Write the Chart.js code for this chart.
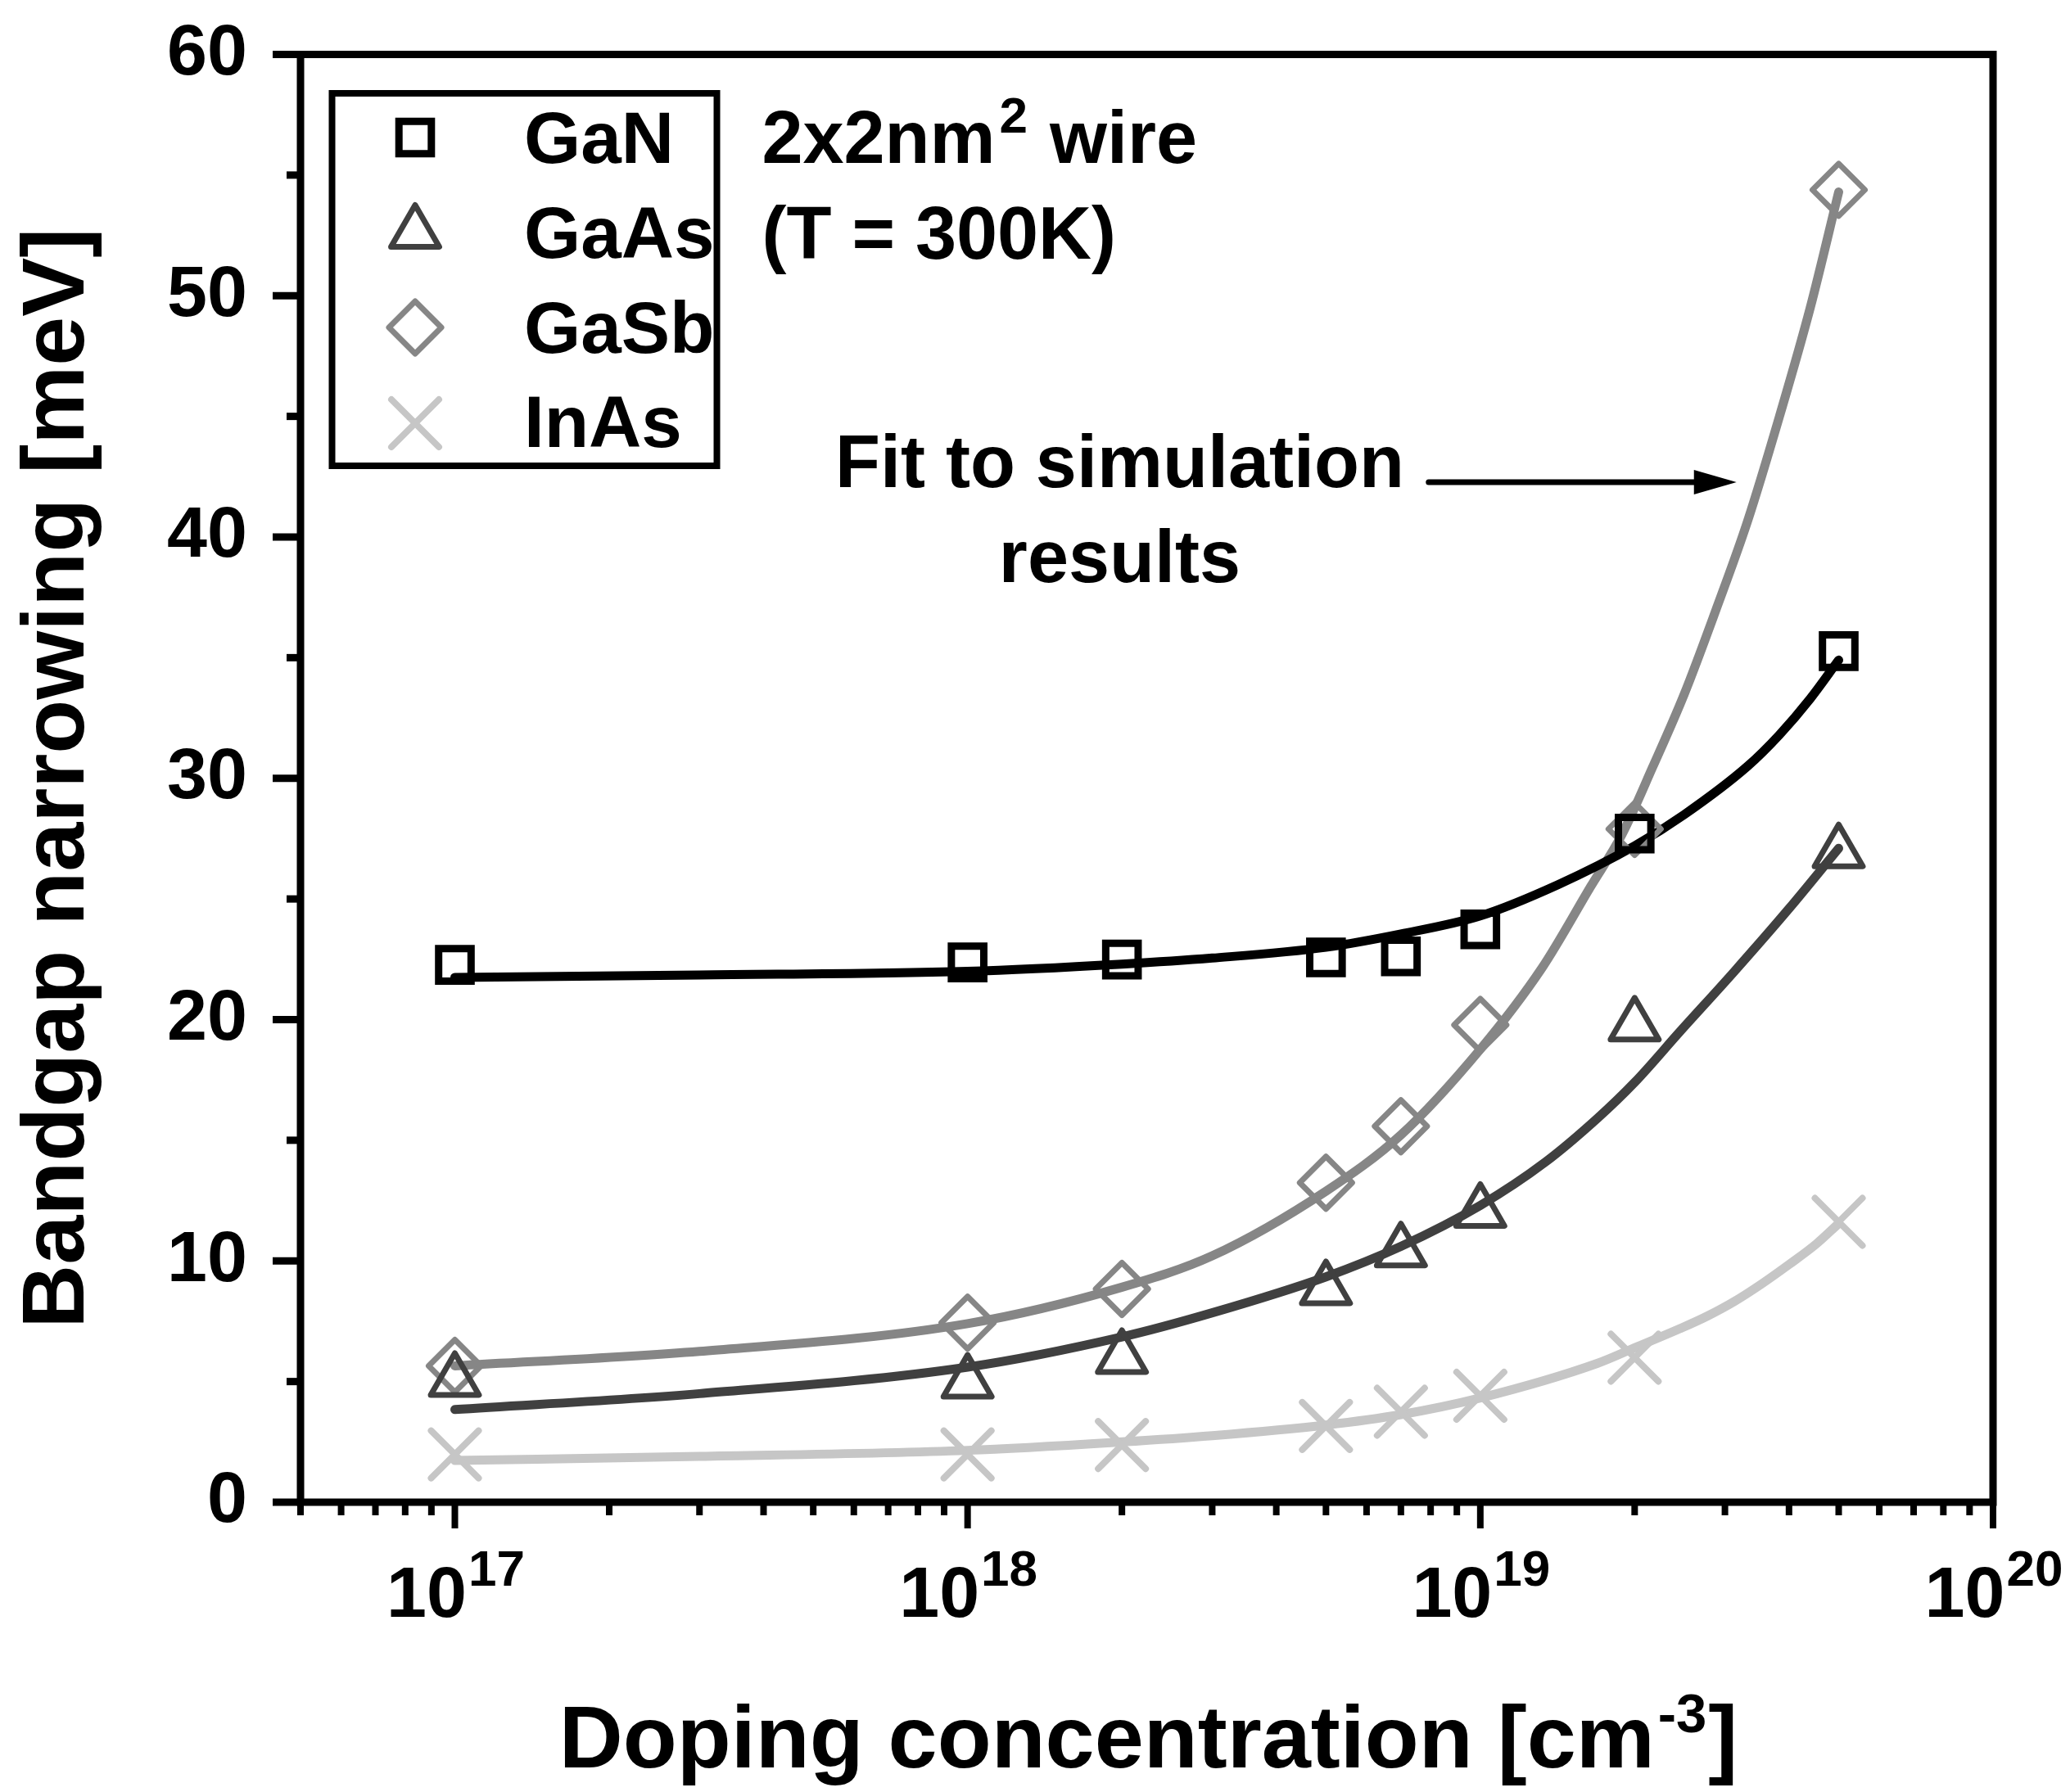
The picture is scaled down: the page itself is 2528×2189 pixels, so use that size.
<!DOCTYPE html>
<html>
<head>
<meta charset="utf-8">
<script src="https://cdn.jsdelivr.net/npm/chart.js@4.4.1/dist/chart.umd.min.js"></script>
<style>
html,body{margin:0;padding:0;background:#ffffff;}
#wrap{width:2528px;height:2189px;position:relative;}
</style>
</head>
<body>
<div id="wrap"><canvas id="c" width="2528" height="2189"></canvas></div>
<script>
// ---------- data ----------
const materials = ['GaN', 'GaAs', 'GaSb', 'InAs'];
const dopingPoints = [1e17, 1e18, 2e18, 5e18, 7e18, 1e19, 2e19, 5e19];
const ganSim  = [22.27, 22.37, 22.49, 22.58, 22.62, 23.74, 27.71, 35.27];
const gaasSim = [5.02, 4.95, 5.97, 8.82, 10.39, 12.03, 19.75, 26.93];
const gasbSim = [5.65, 7.44, 8.84, 13.24, 15.58, 19.78, 27.9, 54.39];
const inasSim = [1.98, 1.98, 2.37, 3.16, 3.75, 4.41, 5.99, 11.62];

const ganFitX  = [1e17, 3e17, 1e18, 2e18, 3e18, 5e18, 7e18, 1e19, 1.42e19, 2e19, 2.5e19, 3.32e19, 3.83e19, 4.4e19, 5e19];
const ganFitY  = [21.75, 21.85, 22.0, 22.3, 22.55, 23.0, 23.55, 24.3, 25.6, 27.2, 28.5, 30.5, 31.8, 33.3, 34.9];
const gaasFitX = [1e17, 3e17, 1e18, 2e18, 3e18, 5e18, 7e18, 1e19, 1.34e19, 1.69e19, 2e19, 2.45e19, 3.13e19, 4e19, 5e19];
const gaasFitY = [3.84, 4.5, 5.6, 6.85, 7.85, 9.34, 10.6, 12.3, 14.1, 15.9, 17.4, 19.5, 22.0, 24.6, 27.1];
const gasbFitX = [1e17, 3e17, 1e18, 2e18, 3e18, 5e18, 7e18, 1e19, 1.32e19, 1.64e19, 1.89e19, 2.17e19, 2.5e19, 2.88e19, 3.32e19, 3.83e19, 4.4e19, 5e19];
const gasbFitY = [5.65, 6.25, 7.4, 8.91, 10.21, 12.89, 15.22, 18.77, 22.15, 25.5, 27.68, 30.48, 33.5, 36.97, 40.65, 44.98, 49.5, 54.3];
const inasFitX = [1e17, 3e17, 1e18, 2e18, 3e18, 5e18, 7e18, 1e19, 1.69e19, 2e19, 2.45e19, 2.77e19, 3.13e19, 3.54e19, 4e19, 4.52e19, 5e19];
const inasFitY = [1.73, 1.9, 2.15, 2.5, 2.76, 3.2, 3.63, 4.32, 5.75, 6.4, 7.19, 7.71, 8.32, 9.05, 9.85, 10.7, 11.55];

const xMajorExponents = [17, 18, 19, 20];
const yTickValues = [0, 10, 20, 30, 40, 50, 60];
const xTitleMain = 'Doping concentration [cm';
const xTitleSup = '-3';
const xTitleEnd = ']';
const yTitle = 'Bandgap narrowing [meV]';
const noteLine1 = ['2x2nm', '2', ' wire'];
const noteLine2 = '(T = 300K)';
const fitNote = ['Fit to simulation', 'results'];

// ---------- styles ----------
const colors = {GaN: '#000000', GaAs: '#404040', GaSb: '#868686', InAs: '#c6c6c6'};
const styles = {GaN: 'rect', GaAs: 'triangle', GaSb: 'rectRot', InAs: 'crossRot'};
const radii  = {GaN: 28, GaAs: 34, GaSb: 32, InAs: 41};
const bws    = {GaN: 9, GaAs: 7, GaSb: 7, InAs: 8};
const FAM = '"Liberation Sans", Arial, Helvetica, sans-serif';
const fnt = s => `bold ${s}px ${FAM}`;

function pts(xs, ys){ return xs.map((v,i)=>({x:v, y:ys[i]})); }
const simSets = {GaN: ganSim, GaAs: gaasSim, GaSb: gasbSim, InAs: inasSim};
const fitSets = {GaN: [ganFitX, ganFitY], GaAs: [gaasFitX, gaasFitY], GaSb: [gasbFitX, gasbFitY], InAs: [inasFitX, inasFitY]};

const datasets = [];
materials.forEach(m => {
  datasets.push({
    label: m + ' fit', data: pts(fitSets[m][0], fitSets[m][1]), showLine: true,
    borderColor: colors[m], borderWidth: 11, borderCapStyle: 'round', borderJoinStyle: 'round',
    pointRadius: 0, pointHoverRadius: 0, cubicInterpolationMode: 'monotone', fill: false, order: 2
  });
  datasets.push({
    label: m, data: pts(dopingPoints, simSets[m]), showLine: false,
    pointStyle: styles[m], pointRadius: radii[m], pointHoverRadius: radii[m],
    pointBorderColor: colors[m], pointBackgroundColor: 'rgba(0,0,0,0)', pointBorderWidth: bws[m],
    borderColor: colors[m], backgroundColor: 'rgba(0,0,0,0)', order: 1
  });
});

const decor = {
  id: 'decor',
  beforeDatasetDraw(chart, args){
    const ds = chart.data.datasets[args.index];
    chart.ctx.lineJoin = ds.pointStyle === 'rect' ? 'miter' : 'round';
    chart.ctx.lineCap = 'round';
  },
  afterDraw(chart){
    const {ctx, chartArea: a, scales: {x, y}} = chart;
    ctx.save();
    ctx.fillStyle = '#000'; ctx.strokeStyle = '#000';
    // frame
    ctx.lineWidth = 9; ctx.lineCap = 'butt'; ctx.lineJoin = 'miter';
    ctx.strokeRect(a.left, a.top, a.right - a.left, a.bottom - a.top);
    // x ticks
    ctx.lineWidth = 8;
    for (let e = 16; e <= 20; e++) {
      for (let k = 1; k <= 9; k++) {
        const v = k * Math.pow(10, e);
        if (v < x.min * 0.999 || v > x.max * 1.001) continue;
        const px = x.getPixelForValue(v);
        const len = k === 1 ? 32 : 16;
        ctx.beginPath(); ctx.moveTo(px, a.bottom); ctx.lineTo(px, a.bottom + len); ctx.stroke();
      }
    }
    // y ticks
    ctx.lineWidth = 9;
    for (let v = y.min; v <= y.max + 0.001; v += 5) {
      const py = y.getPixelForValue(v);
      const len = (Math.round(v) % 10 === 0) ? 34 : 17;
      ctx.beginPath(); ctx.moveTo(a.left, py); ctx.lineTo(a.left - len, py); ctx.stroke();
    }
    // x tick labels 10^n
    ctx.textBaseline = 'alphabetic'; ctx.textAlign = 'left';
    xMajorExponents.forEach(e => {
      const px = x.getPixelForValue(Math.pow(10, e));
      ctx.font = fnt(88); const w1 = ctx.measureText('10').width;
      ctx.font = fnt(62); const w2 = ctx.measureText(String(e)).width;
      const x0 = px - (w1 + w2) / 2;
      ctx.font = fnt(88); ctx.fillText('10', x0, a.bottom + 140);
      ctx.font = fnt(62); ctx.fillText(String(e), x0 + w1 + 2, a.bottom + 102);
    });
    // x title
    ctx.font = fnt(108); const t1 = ctx.measureText(xTitleMain).width; const t3 = ctx.measureText(xTitleEnd).width;
    ctx.font = fnt(67); const t2 = ctx.measureText(xTitleSup).width;
    const tx0 = (a.left + a.right) / 2 + 2 - (t1 + t2 + t3 + 6) / 2;
    const tb = a.bottom + 324;
    ctx.font = fnt(108); ctx.fillText(xTitleMain, tx0, tb);
    ctx.font = fnt(67); ctx.fillText(xTitleSup, tx0 + t1 + 4, tb - 43);
    ctx.font = fnt(108); ctx.fillText(xTitleEnd, tx0 + t1 + t2 + 6, tb);

    // annotations placed in data coordinates
    const nx = x.getPixelForValue(3.97e17);
    ctx.font = fnt(90); ctx.fillText(noteLine1[0], nx, y.getPixelForValue(55.51));
    const n1 = ctx.measureText(noteLine1[0]).width;
    ctx.font = fnt(62); ctx.fillText(noteLine1[1], nx + n1 + 5, y.getPixelForValue(55.51) - 37);
    const n2 = ctx.measureText(noteLine1[1]).width;
    ctx.font = fnt(90); ctx.fillText(noteLine1[2], nx + n1 + n2 + 7, y.getPixelForValue(55.51));
    ctx.fillText(noteLine2, nx, y.getPixelForValue(51.55));
    ctx.textAlign = 'center';
    const fx = x.getPixelForValue(1.98e18);
    ctx.fillText(fitNote[0], fx, y.getPixelForValue(42.06));
    ctx.fillText(fitNote[1], fx, y.getPixelForValue(38.12));
    // arrow
    const ax0 = x.getPixelForValue(7.93e18), ax1 = x.getPixelForValue(3.16e19), ay = y.getPixelForValue(42.27);
    ctx.lineWidth = 7; ctx.lineCap = 'round';
    ctx.beginPath(); ctx.moveTo(ax0, ay); ctx.lineTo(ax1 - 40, ay); ctx.stroke();
    ctx.beginPath(); ctx.moveTo(ax1, ay); ctx.lineTo(ax1 - 52, ay - 15); ctx.lineTo(ax1 - 52, ay + 15); ctx.closePath(); ctx.fill();

    // legend box
    const lx = a.left + 38.5, ly = a.top + 47.5, lw = 470, lh = 455;
    ctx.lineWidth = 8; ctx.lineCap = 'butt'; ctx.lineJoin = 'miter';
    ctx.strokeRect(lx, ly, lw, lh);
    const rowY = [168, 284.5, 400, 517].map(v => v - 66.5 + a.top);
    const baseY = [199, 315, 431, 546].map(v => v - 66.5 + a.top);
    materials.forEach((m, i) => {
      ctx.save();
      ctx.lineJoin = styles[m] === 'rect' ? 'miter' : 'round';
      ctx.lineCap = 'round';
      ctx.strokeStyle = colors[m]; ctx.lineWidth = bws[m]; ctx.fillStyle = 'rgba(0,0,0,0)';
      Chart.helpers.drawPoint(ctx, {pointStyle: styles[m], radius: radii[m], rotation: 0, borderWidth: bws[m]}, a.left + 140, rowY[i]);
      ctx.restore();
      ctx.textAlign = 'left'; ctx.font = fnt(89); ctx.fillStyle = '#000';
      ctx.fillText(m, a.left + 273, baseY[i]);
    });
    ctx.restore();
  }
};

new Chart(document.getElementById('c'), {
  type: 'scatter',
  data: {datasets},
  options: {
    responsive: false, animation: false, devicePixelRatio: 1,
    layout: {padding: {left: 0, right: 94, top: 66.5, bottom: 0}},
    plugins: {legend: {display: false}, tooltip: {enabled: false}, title: {display: false}},
    scales: {
      x: {
        type: 'logarithmic', min: 5e16, max: 1e20,
        grid: {display: false, drawTicks: false}, border: {display: false},
        ticks: {display: false},
        afterFit(s){ s.height = 354; s.paddingLeft = 0; s.paddingRight = 0; }
      },
      y: {
        type: 'linear', min: 0, max: 60,
        grid: {display: false, drawTicks: false}, border: {display: false},
        afterBuildTicks(s){ s.ticks = yTickValues.map(v => ({value: v})); },
        ticks: {color: '#000', padding: 65, font: {family: FAM, size: 88, weight: 'bold'}},
        title: {display: true, text: yTitle, color: '#000', padding: {top: 7, bottom: 0}, font: {family: FAM, size: 108, weight: 'bold'}},
        afterFit(s){ s.width = 367; s.paddingTop = 0; s.paddingBottom = 0; }
      }
    }
  },
  plugins: [decor]
});
</script>
</body>
</html>
